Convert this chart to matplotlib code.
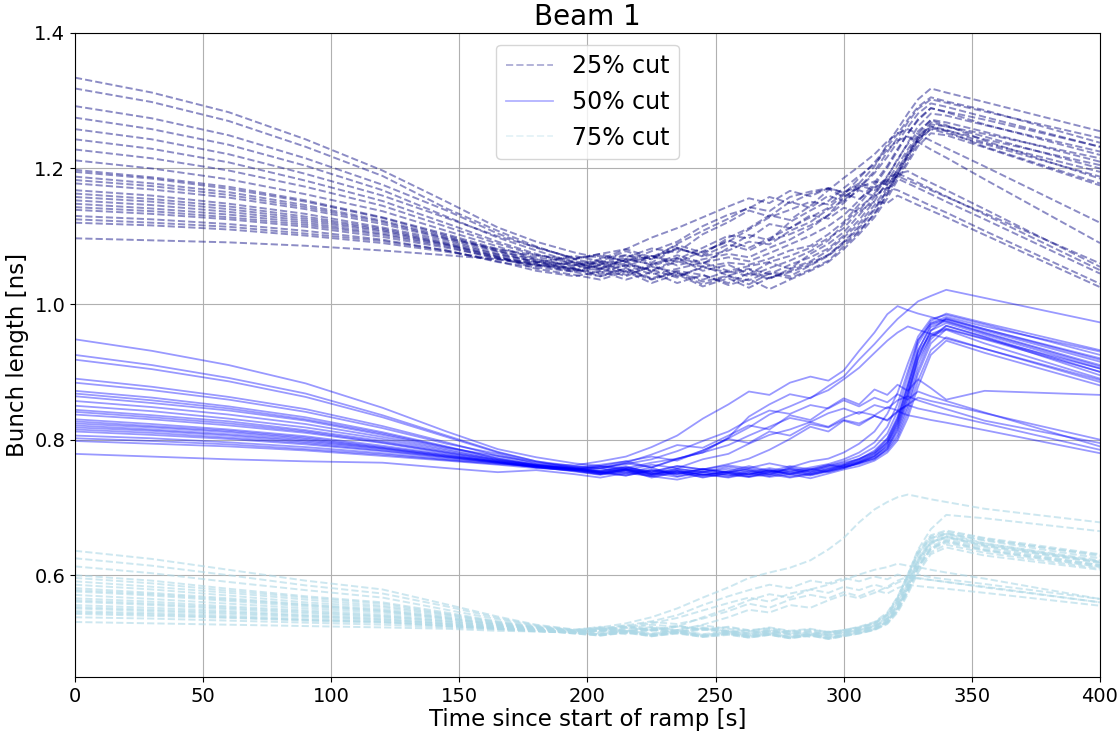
import matplotlib
matplotlib.use("Agg")
import matplotlib.pyplot as plt
from matplotlib.lines import Line2D

# time points [s]
t = [0, 30, 60, 90, 120, 145, 165, 180, 195, 205, 215, 225, 235, 245, 255,
     263, 271, 279, 287, 294, 300, 306, 312, 317, 321, 325, 329, 334, 340, 355, 400]

# bunch lengths [ns], 25% cut
cut25 = [
    [1.334, 1.312, 1.283, 1.243, 1.197, 1.151, 1.113, 1.092, 1.076, 1.068, 1.072, 1.061, 1.083, 1.070, 1.079,
     1.092, 1.088, 1.108, 1.121, 1.140, 1.152, 1.178, 1.203, 1.236, 1.258, 1.281, 1.302, 1.318, 1.312, 1.298, 1.255],
    [1.318, 1.298, 1.270, 1.232, 1.189, 1.141, 1.108, 1.085, 1.066, 1.059, 1.064, 1.071, 1.057, 1.066, 1.074,
     1.069, 1.083, 1.095, 1.112, 1.131, 1.158, 1.172, 1.196, 1.224, 1.245, 1.268, 1.288, 1.302, 1.297, 1.284, 1.245],
    [1.292, 1.274, 1.249, 1.215, 1.176, 1.138, 1.104, 1.083, 1.068, 1.071, 1.063, 1.078, 1.092, 1.115, 1.132,
     1.141, 1.158, 1.149, 1.163, 1.170, 1.158, 1.172, 1.181, 1.176, 1.185, 1.178, 1.171, 1.162, 1.151, 1.125, 1.045],
    [1.275, 1.258, 1.235, 1.204, 1.168, 1.129, 1.098, 1.079, 1.061, 1.052, 1.060, 1.048, 1.063, 1.055, 1.061,
     1.058, 1.067, 1.079, 1.086, 1.103, 1.121, 1.147, 1.175, 1.201, 1.226, 1.252, 1.271, 1.289, 1.284, 1.272, 1.232],
    [1.258, 1.243, 1.221, 1.192, 1.160, 1.127, 1.100, 1.084, 1.067, 1.074, 1.062, 1.069, 1.081, 1.073, 1.098,
     1.112, 1.131, 1.124, 1.145, 1.168, 1.186, 1.203, 1.221, 1.240, 1.252, 1.258, 1.251, 1.241, 1.230, 1.203, 1.120],
    [1.243, 1.229, 1.209, 1.182, 1.152, 1.119, 1.092, 1.074, 1.058, 1.049, 1.057, 1.044, 1.052, 1.061, 1.049,
     1.056, 1.062, 1.071, 1.083, 1.097, 1.112, 1.138, 1.163, 1.189, 1.212, 1.238, 1.262, 1.281, 1.278, 1.264, 1.225],
    [1.228, 1.215, 1.197, 1.173, 1.145, 1.114, 1.089, 1.072, 1.063, 1.058, 1.069, 1.082, 1.076, 1.103, 1.121,
     1.138, 1.129, 1.151, 1.142, 1.160, 1.152, 1.168, 1.159, 1.172, 1.168, 1.161, 1.154, 1.145, 1.135, 1.108, 1.030],
    [1.212, 1.200, 1.184, 1.162, 1.137, 1.108, 1.085, 1.066, 1.055, 1.062, 1.047, 1.058, 1.041, 1.054, 1.047,
     1.052, 1.044, 1.058, 1.069, 1.082, 1.101, 1.124, 1.152, 1.181, 1.205, 1.228, 1.251, 1.272, 1.268, 1.254, 1.210],
    [1.198, 1.187, 1.173, 1.153, 1.128, 1.103, 1.081, 1.069, 1.061, 1.053, 1.066, 1.059, 1.068, 1.049, 1.058,
     1.044, 1.061, 1.052, 1.074, 1.089, 1.106, 1.131, 1.158, 1.176, 1.198, 1.221, 1.246, 1.268, 1.262, 1.247, 1.200],
    [1.195, 1.185, 1.170, 1.151, 1.127, 1.101, 1.079, 1.064, 1.052, 1.041, 1.049, 1.036, 1.047, 1.033, 1.042,
     1.029, 1.045, 1.038, 1.051, 1.064, 1.085, 1.106, 1.134, 1.163, 1.192, 1.219, 1.243, 1.265, 1.262, 1.251, 1.215],
    [1.188, 1.178, 1.165, 1.146, 1.123, 1.099, 1.078, 1.066, 1.057, 1.064, 1.055, 1.071, 1.062, 1.078, 1.092,
     1.110, 1.128, 1.139, 1.151, 1.147, 1.163, 1.155, 1.171, 1.183, 1.192, 1.196, 1.188, 1.179, 1.168, 1.140, 1.055],
    [1.183, 1.174, 1.161, 1.143, 1.121, 1.097, 1.081, 1.072, 1.066, 1.074, 1.081, 1.069, 1.087, 1.076, 1.094,
     1.083, 1.097, 1.112, 1.128, 1.142, 1.161, 1.186, 1.209, 1.232, 1.251, 1.272, 1.291, 1.305, 1.299, 1.286, 1.238],
    [1.178, 1.169, 1.157, 1.140, 1.118, 1.096, 1.077, 1.061, 1.052, 1.046, 1.058, 1.051, 1.039, 1.056, 1.042,
     1.051, 1.038, 1.049, 1.061, 1.072, 1.091, 1.112, 1.139, 1.168, 1.191, 1.217, 1.241, 1.262, 1.257, 1.238, 1.195],
    [1.168, 1.160, 1.148, 1.133, 1.113, 1.094, 1.074, 1.063, 1.050, 1.058, 1.043, 1.055, 1.047, 1.036, 1.049,
     1.041, 1.053, 1.064, 1.078, 1.094, 1.118, 1.142, 1.161, 1.187, 1.214, 1.236, 1.255, 1.271, 1.264, 1.241, 1.185],
    [1.163, 1.155, 1.144, 1.129, 1.111, 1.091, 1.073, 1.062, 1.058, 1.066, 1.081, 1.098, 1.112, 1.128, 1.144,
     1.156, 1.149, 1.167, 1.159, 1.171, 1.165, 1.178, 1.172, 1.186, 1.193, 1.186, 1.179, 1.170, 1.159, 1.132, 1.050],
    [1.158, 1.151, 1.140, 1.126, 1.109, 1.089, 1.071, 1.059, 1.049, 1.057, 1.062, 1.049, 1.066, 1.083, 1.101,
     1.097, 1.118, 1.112, 1.131, 1.126, 1.142, 1.136, 1.151, 1.149, 1.160, 1.153, 1.146, 1.138, 1.128, 1.102, 1.025],
    [1.153, 1.146, 1.136, 1.123, 1.107, 1.088, 1.070, 1.052, 1.043, 1.036, 1.048, 1.031, 1.044, 1.026, 1.038,
     1.024, 1.039, 1.047, 1.058, 1.073, 1.092, 1.115, 1.141, 1.167, 1.193, 1.219, 1.243, 1.258, 1.252, 1.236, 1.188],
    [1.148, 1.141, 1.132, 1.120, 1.104, 1.087, 1.069, 1.058, 1.047, 1.041, 1.053, 1.038, 1.049, 1.043, 1.031,
     1.046, 1.037, 1.052, 1.063, 1.079, 1.098, 1.119, 1.146, 1.172, 1.198, 1.224, 1.247, 1.262, 1.255, 1.232, 1.178],
    [1.143, 1.137, 1.128, 1.117, 1.102, 1.085, 1.067, 1.061, 1.071, 1.063, 1.078, 1.066, 1.083, 1.071, 1.088,
     1.079, 1.094, 1.103, 1.116, 1.131, 1.149, 1.171, 1.193, 1.217, 1.239, 1.261, 1.281, 1.296, 1.291, 1.276, 1.232],
    [1.139, 1.133, 1.125, 1.114, 1.099, 1.083, 1.068, 1.056, 1.062, 1.051, 1.067, 1.058, 1.072, 1.061, 1.069,
     1.063, 1.075, 1.088, 1.101, 1.115, 1.131, 1.153, 1.179, 1.204, 1.229, 1.251, 1.273, 1.289, 1.283, 1.265, 1.220],
    [1.130, 1.125, 1.118, 1.108, 1.095, 1.079, 1.062, 1.054, 1.048, 1.053, 1.041, 1.056, 1.068, 1.059, 1.083,
     1.102, 1.094, 1.121, 1.138, 1.152, 1.171, 1.189, 1.206, 1.228, 1.241, 1.247, 1.239, 1.228, 1.216, 1.184, 1.090],
    [1.125, 1.120, 1.114, 1.104, 1.093, 1.079, 1.063, 1.049, 1.041, 1.048, 1.036, 1.047, 1.031, 1.043, 1.028,
     1.037, 1.022, 1.036, 1.049, 1.062, 1.081, 1.103, 1.128, 1.156, 1.183, 1.208, 1.233, 1.252, 1.249, 1.231, 1.175],
    [1.120, 1.116, 1.110, 1.101, 1.090, 1.077, 1.066, 1.057, 1.051, 1.044, 1.052, 1.037, 1.046, 1.029, 1.041,
     1.035, 1.048, 1.041, 1.057, 1.071, 1.089, 1.108, 1.132, 1.161, 1.187, 1.212, 1.238, 1.259, 1.256, 1.243, 1.205],
    [1.097, 1.094, 1.091, 1.086, 1.079, 1.072, 1.066, 1.058, 1.053, 1.061, 1.072, 1.066, 1.089, 1.108, 1.126,
     1.143, 1.137, 1.158, 1.166, 1.171, 1.164, 1.175, 1.168, 1.181, 1.189, 1.182, 1.176, 1.168, 1.158, 1.134, 1.060],
]

# bunch lengths [ns], 50% cut
cut50 = [
    [0.948, 0.931, 0.910, 0.883, 0.847, 0.812, 0.786, 0.774, 0.765, 0.761, 0.768, 0.759, 0.772, 0.781, 0.803,
     0.834, 0.852, 0.867, 0.861, 0.879, 0.893, 0.918, 0.941, 0.962, 0.978, 0.991, 1.004, 1.012, 1.021, 1.009, 0.973],
    [0.925, 0.910, 0.891, 0.868, 0.836, 0.806, 0.782, 0.768, 0.759, 0.754, 0.761, 0.749, 0.757, 0.752, 0.760,
     0.755, 0.748, 0.759, 0.753, 0.761, 0.766, 0.771, 0.784, 0.802, 0.834, 0.884, 0.941, 0.972, 0.981, 0.967, 0.930],
    [0.918, 0.904, 0.886, 0.863, 0.833, 0.804, 0.781, 0.768, 0.761, 0.758, 0.764, 0.771, 0.783, 0.798, 0.812,
     0.829, 0.843, 0.838, 0.851, 0.846, 0.858, 0.849, 0.862, 0.855, 0.867, 0.859, 0.871, 0.864, 0.857, 0.840, 0.790],
    [0.890, 0.878, 0.863, 0.845, 0.820, 0.796, 0.776, 0.767, 0.758, 0.752, 0.747, 0.755, 0.749, 0.756, 0.751,
     0.758, 0.753, 0.761, 0.756, 0.763, 0.759, 0.766, 0.775, 0.791, 0.818, 0.862, 0.921, 0.961, 0.979, 0.963, 0.920],
    [0.884, 0.873, 0.859, 0.841, 0.817, 0.794, 0.779, 0.765, 0.762, 0.768, 0.775, 0.789, 0.806, 0.831, 0.852,
     0.871, 0.866, 0.884, 0.893, 0.887, 0.902, 0.931, 0.958, 0.985, 0.997, 0.991, 0.986, 0.981, 0.974, 0.958, 0.910],
    [0.872, 0.862, 0.849, 0.833, 0.811, 0.790, 0.772, 0.763, 0.757, 0.750, 0.756, 0.744, 0.752, 0.747, 0.754,
     0.749, 0.756, 0.748, 0.755, 0.760, 0.764, 0.772, 0.781, 0.798, 0.829, 0.879, 0.928, 0.956, 0.964, 0.949, 0.905],
    [0.868, 0.858, 0.846, 0.830, 0.809, 0.789, 0.773, 0.762, 0.756, 0.751, 0.755, 0.749, 0.754, 0.748, 0.752,
     0.749, 0.754, 0.750, 0.756, 0.762, 0.768, 0.776, 0.789, 0.809, 0.842, 0.894, 0.946, 0.975, 0.986, 0.972, 0.932],
    [0.864, 0.854, 0.843, 0.828, 0.807, 0.788, 0.776, 0.764, 0.756, 0.761, 0.755, 0.763, 0.758, 0.771, 0.779,
     0.794, 0.807, 0.815, 0.826, 0.819, 0.832, 0.841, 0.836, 0.848, 0.843, 0.851, 0.846, 0.842, 0.837, 0.824, 0.785],
    [0.857, 0.848, 0.837, 0.823, 0.804, 0.786, 0.771, 0.762, 0.755, 0.758, 0.751, 0.759, 0.746, 0.753, 0.748,
     0.745, 0.752, 0.757, 0.749, 0.755, 0.761, 0.767, 0.776, 0.789, 0.812, 0.851, 0.903, 0.948, 0.968, 0.951, 0.895],
    [0.850, 0.842, 0.831, 0.818, 0.801, 0.784, 0.770, 0.761, 0.758, 0.753, 0.759, 0.752, 0.761, 0.756, 0.762,
     0.758, 0.765, 0.759, 0.768, 0.772, 0.781, 0.794, 0.812, 0.838, 0.869, 0.912, 0.952, 0.978, 0.984, 0.970, 0.925],
    [0.844, 0.836, 0.827, 0.814, 0.798, 0.782, 0.770, 0.763, 0.760, 0.757, 0.766, 0.778, 0.792, 0.788, 0.806,
     0.821, 0.815, 0.836, 0.829, 0.847, 0.861, 0.852, 0.874, 0.866, 0.881, 0.872, 0.889, 0.876, 0.859, 0.872, 0.866],
    [0.841, 0.833, 0.824, 0.812, 0.796, 0.781, 0.769, 0.762, 0.757, 0.753, 0.749, 0.756, 0.751, 0.757, 0.752,
     0.756, 0.751, 0.757, 0.753, 0.758, 0.763, 0.771, 0.782, 0.801, 0.831, 0.878, 0.932, 0.966, 0.975, 0.957, 0.908],
    [0.837, 0.830, 0.821, 0.810, 0.795, 0.780, 0.768, 0.760, 0.754, 0.749, 0.756, 0.751, 0.745, 0.752, 0.747,
     0.754, 0.749, 0.755, 0.751, 0.757, 0.762, 0.769, 0.779, 0.795, 0.824, 0.869, 0.918, 0.953, 0.962, 0.942, 0.890],
    [0.830, 0.823, 0.815, 0.805, 0.791, 0.778, 0.767, 0.761, 0.756, 0.752, 0.757, 0.749, 0.755, 0.748, 0.753,
     0.761, 0.754, 0.749, 0.757, 0.752, 0.758, 0.765, 0.773, 0.786, 0.807, 0.846, 0.897, 0.942, 0.963, 0.948, 0.900],
    [0.827, 0.820, 0.813, 0.803, 0.789, 0.777, 0.767, 0.760, 0.756, 0.759, 0.765, 0.759, 0.771, 0.784, 0.802,
     0.818, 0.837, 0.849, 0.862, 0.873, 0.889, 0.906, 0.928, 0.946, 0.958, 0.967, 0.962, 0.956, 0.949, 0.934, 0.888],
    [0.824, 0.818, 0.811, 0.801, 0.788, 0.776, 0.768, 0.762, 0.759, 0.763, 0.768, 0.775, 0.769, 0.784, 0.801,
     0.795, 0.812, 0.806, 0.823, 0.818, 0.829, 0.824, 0.835, 0.828, 0.841, 0.852, 0.862, 0.857, 0.852, 0.839, 0.800],
    [0.821, 0.815, 0.808, 0.799, 0.787, 0.775, 0.767, 0.759, 0.754, 0.749, 0.753, 0.746, 0.751, 0.745, 0.750,
     0.745, 0.749, 0.744, 0.749, 0.754, 0.759, 0.766, 0.776, 0.793, 0.821, 0.866, 0.922, 0.961, 0.972, 0.955, 0.905],
    [0.818, 0.813, 0.806, 0.797, 0.786, 0.775, 0.766, 0.760, 0.753, 0.748, 0.754, 0.747, 0.753, 0.744, 0.751,
     0.746, 0.752, 0.745, 0.751, 0.756, 0.762, 0.768, 0.779, 0.796, 0.826, 0.872, 0.931, 0.969, 0.977, 0.961, 0.915],
    [0.815, 0.810, 0.803, 0.795, 0.784, 0.774, 0.766, 0.760, 0.756, 0.752, 0.757, 0.751, 0.757, 0.752, 0.757,
     0.752, 0.758, 0.753, 0.759, 0.764, 0.771, 0.781, 0.796, 0.819, 0.853, 0.901, 0.947, 0.971, 0.978, 0.963, 0.918],
    [0.812, 0.807, 0.801, 0.793, 0.783, 0.773, 0.766, 0.759, 0.755, 0.751, 0.747, 0.754, 0.749, 0.756, 0.751,
     0.748, 0.755, 0.751, 0.747, 0.753, 0.758, 0.766, 0.772, 0.784, 0.803, 0.839, 0.887, 0.932, 0.951, 0.934, 0.885],
    [0.806, 0.802, 0.796, 0.789, 0.780, 0.771, 0.765, 0.761, 0.757, 0.754, 0.759, 0.753, 0.761, 0.756, 0.764,
     0.772, 0.785, 0.801, 0.819, 0.812, 0.828, 0.821, 0.835, 0.829, 0.842, 0.836, 0.833, 0.829, 0.825, 0.814, 0.780],
    [0.802, 0.798, 0.793, 0.786, 0.778, 0.770, 0.764, 0.760, 0.757, 0.761, 0.758, 0.766, 0.772, 0.781, 0.792,
     0.806, 0.819, 0.832, 0.826, 0.839, 0.846, 0.838, 0.851, 0.846, 0.858, 0.864, 0.858, 0.852, 0.845, 0.828, 0.795],
    [0.798, 0.794, 0.790, 0.784, 0.776, 0.769, 0.763, 0.758, 0.755, 0.750, 0.756, 0.748, 0.754, 0.749, 0.745,
     0.752, 0.746, 0.753, 0.748, 0.754, 0.760, 0.764, 0.771, 0.787, 0.815, 0.858, 0.911, 0.952, 0.968, 0.952, 0.900],
    [0.779, 0.775, 0.771, 0.768, 0.766, 0.758, 0.752, 0.755, 0.749, 0.744, 0.751, 0.746, 0.741, 0.749, 0.744,
     0.750, 0.745, 0.749, 0.743, 0.750, 0.756, 0.761, 0.769, 0.781, 0.799, 0.832, 0.878, 0.925, 0.946, 0.928, 0.880],
]

# bunch lengths [ns], 75% cut
cut75 = [
    [0.636, 0.624, 0.608, 0.592, 0.579, 0.557, 0.539, 0.527, 0.520, 0.523, 0.529, 0.538, 0.551, 0.567, 0.582,
     0.596, 0.604, 0.611, 0.622, 0.638, 0.655, 0.678, 0.697, 0.708, 0.715, 0.719, 0.716, 0.712, 0.708, 0.698, 0.678],
    [0.625, 0.614, 0.600, 0.585, 0.573, 0.554, 0.537, 0.526, 0.519, 0.522, 0.517, 0.524, 0.519, 0.526, 0.521,
     0.517, 0.523, 0.518, 0.521, 0.516, 0.519, 0.524, 0.531, 0.545, 0.568, 0.601, 0.638, 0.668, 0.689, 0.684, 0.665],
    [0.613, 0.603, 0.590, 0.578, 0.567, 0.549, 0.535, 0.525, 0.519, 0.521, 0.526, 0.532, 0.541, 0.556, 0.569,
     0.578, 0.586, 0.581, 0.592, 0.588, 0.596, 0.591, 0.598, 0.594, 0.601, 0.597, 0.595, 0.593, 0.590, 0.582, 0.560],
    [0.600, 0.592, 0.580, 0.569, 0.560, 0.545, 0.532, 0.524, 0.518, 0.514, 0.519, 0.513, 0.518, 0.512, 0.516,
     0.511, 0.515, 0.509, 0.514, 0.511, 0.516, 0.519, 0.526, 0.538, 0.559, 0.588, 0.624, 0.651, 0.661, 0.652, 0.630],
    [0.596, 0.588, 0.577, 0.567, 0.558, 0.543, 0.531, 0.523, 0.518, 0.521, 0.526, 0.519, 0.525, 0.521, 0.518,
     0.514, 0.519, 0.515, 0.511, 0.516, 0.519, 0.523, 0.529, 0.541, 0.562, 0.594, 0.629, 0.654, 0.662, 0.651, 0.625],
    [0.591, 0.583, 0.574, 0.564, 0.555, 0.542, 0.530, 0.523, 0.518, 0.516, 0.521, 0.527, 0.524, 0.538, 0.551,
     0.563, 0.572, 0.567, 0.579, 0.574, 0.583, 0.578, 0.586, 0.581, 0.589, 0.595, 0.601, 0.597, 0.594, 0.587, 0.565],
    [0.586, 0.579, 0.570, 0.560, 0.553, 0.540, 0.529, 0.522, 0.516, 0.512, 0.517, 0.511, 0.516, 0.510, 0.514,
     0.509, 0.513, 0.508, 0.512, 0.507, 0.512, 0.516, 0.521, 0.532, 0.551, 0.581, 0.618, 0.646, 0.656, 0.645, 0.620],
    [0.581, 0.574, 0.566, 0.557, 0.550, 0.538, 0.528, 0.522, 0.519, 0.524, 0.518, 0.523, 0.517, 0.522, 0.516,
     0.519, 0.514, 0.518, 0.513, 0.517, 0.514, 0.518, 0.524, 0.534, 0.553, 0.579, 0.611, 0.639, 0.651, 0.638, 0.615],
    [0.578, 0.572, 0.564, 0.556, 0.548, 0.537, 0.527, 0.520, 0.515, 0.512, 0.516, 0.510, 0.515, 0.509, 0.513,
     0.508, 0.512, 0.507, 0.511, 0.506, 0.510, 0.514, 0.520, 0.531, 0.552, 0.584, 0.621, 0.648, 0.658, 0.647, 0.622],
    [0.576, 0.570, 0.562, 0.554, 0.547, 0.536, 0.527, 0.521, 0.517, 0.519, 0.524, 0.531, 0.528, 0.536, 0.547,
     0.558, 0.552, 0.564, 0.571, 0.566, 0.575, 0.569, 0.578, 0.573, 0.581, 0.586, 0.584, 0.582, 0.580, 0.574, 0.555],
    [0.571, 0.565, 0.558, 0.551, 0.545, 0.535, 0.526, 0.521, 0.515, 0.518, 0.513, 0.519, 0.514, 0.520, 0.515,
     0.512, 0.517, 0.513, 0.509, 0.514, 0.517, 0.521, 0.528, 0.540, 0.563, 0.597, 0.633, 0.657, 0.664, 0.654, 0.628],
    [0.566, 0.561, 0.554, 0.548, 0.542, 0.533, 0.525, 0.520, 0.514, 0.511, 0.516, 0.512, 0.517, 0.511, 0.515,
     0.510, 0.514, 0.509, 0.513, 0.508, 0.513, 0.517, 0.522, 0.531, 0.549, 0.577, 0.612, 0.638, 0.648, 0.636, 0.612],
    [0.563, 0.558, 0.552, 0.546, 0.540, 0.532, 0.524, 0.519, 0.516, 0.520, 0.524, 0.519, 0.525, 0.520, 0.524,
     0.519, 0.522, 0.517, 0.520, 0.516, 0.519, 0.523, 0.530, 0.543, 0.567, 0.601, 0.636, 0.659, 0.666, 0.655, 0.631],
    [0.561, 0.556, 0.550, 0.544, 0.539, 0.531, 0.524, 0.520, 0.517, 0.522, 0.517, 0.521, 0.516, 0.523, 0.518,
     0.515, 0.519, 0.514, 0.517, 0.512, 0.516, 0.520, 0.525, 0.536, 0.556, 0.586, 0.621, 0.648, 0.656, 0.643, 0.618],
    [0.556, 0.552, 0.547, 0.541, 0.537, 0.529, 0.523, 0.519, 0.517, 0.520, 0.516, 0.522, 0.519, 0.527, 0.538,
     0.549, 0.545, 0.556, 0.552, 0.563, 0.571, 0.566, 0.574, 0.583, 0.592, 0.598, 0.596, 0.593, 0.590, 0.583, 0.560],
    [0.553, 0.549, 0.545, 0.540, 0.535, 0.528, 0.522, 0.518, 0.515, 0.512, 0.516, 0.511, 0.515, 0.510, 0.514,
     0.509, 0.513, 0.508, 0.512, 0.507, 0.511, 0.515, 0.520, 0.530, 0.549, 0.578, 0.613, 0.640, 0.650, 0.637, 0.613],
    [0.551, 0.547, 0.543, 0.538, 0.534, 0.528, 0.522, 0.518, 0.514, 0.511, 0.515, 0.510, 0.514, 0.509, 0.512,
     0.508, 0.512, 0.507, 0.511, 0.506, 0.510, 0.514, 0.519, 0.528, 0.545, 0.572, 0.604, 0.631, 0.641, 0.629, 0.608],
    [0.547, 0.544, 0.540, 0.535, 0.532, 0.526, 0.521, 0.518, 0.515, 0.519, 0.523, 0.518, 0.524, 0.519, 0.523,
     0.518, 0.521, 0.516, 0.519, 0.515, 0.518, 0.522, 0.529, 0.542, 0.566, 0.599, 0.632, 0.655, 0.661, 0.647, 0.620],
    [0.545, 0.542, 0.538, 0.534, 0.531, 0.525, 0.521, 0.518, 0.516, 0.519, 0.515, 0.520, 0.516, 0.521, 0.517,
     0.514, 0.518, 0.513, 0.517, 0.512, 0.516, 0.519, 0.525, 0.536, 0.557, 0.589, 0.624, 0.649, 0.657, 0.644, 0.619],
    [0.543, 0.540, 0.537, 0.533, 0.530, 0.525, 0.521, 0.518, 0.516, 0.513, 0.517, 0.512, 0.516, 0.511, 0.514,
     0.510, 0.513, 0.508, 0.512, 0.509, 0.511, 0.515, 0.520, 0.529, 0.547, 0.575, 0.608, 0.634, 0.645, 0.633, 0.610],
    [0.538, 0.536, 0.533, 0.530, 0.527, 0.523, 0.520, 0.517, 0.516, 0.518, 0.522, 0.529, 0.537, 0.548, 0.559,
     0.567, 0.561, 0.573, 0.579, 0.586, 0.593, 0.601, 0.608, 0.612, 0.617, 0.614, 0.612, 0.608, 0.604, 0.595, 0.565],
    [0.531, 0.529, 0.527, 0.525, 0.523, 0.521, 0.518, 0.517, 0.516, 0.513, 0.518, 0.514, 0.519, 0.513, 0.517,
     0.512, 0.516, 0.511, 0.515, 0.510, 0.514, 0.518, 0.523, 0.534, 0.553, 0.582, 0.616, 0.642, 0.653, 0.641, 0.615],
]

fig = plt.figure(figsize=(11.19, 7.31), dpi=100)
ax = fig.add_axes([0.067, 0.074, 0.916, 0.881])

for y in cut25:
    ax.plot(t, y, '--', color='navy', alpha=0.45, lw=1.4)
for y in cut50:
    ax.plot(t, y, '-', color='blue', alpha=0.4, lw=1.3)
for y in cut75:
    ax.plot(t, y, '--', color='lightblue', alpha=0.6, lw=1.4)

ax.set_xlim(0, 400)
ax.set_ylim(0.45, 1.4)
ax.set_yticks([0.6, 0.8, 1.0, 1.2, 1.4])
ax.grid(True)
ax.tick_params(labelsize=14)
ax.set_xlabel('Time since start of ramp [s]', fontsize=16.5, labelpad=2)
ax.set_ylabel('Bunch length [ns]', fontsize=16.5)
ax.set_title('Beam 1', fontsize=20)

handles = [
    Line2D([], [], ls='--', color='navy', alpha=0.3, lw=1.4),
    Line2D([], [], ls='-', color='blue', alpha=0.3, lw=1.3),
    Line2D([], [], ls='--', color='lightblue', alpha=0.3, lw=1.4),
]
ax.legend(handles, ['25% cut', '50% cut', '75% cut'], loc='upper center', fontsize=17)

fig.savefig('out.png')
